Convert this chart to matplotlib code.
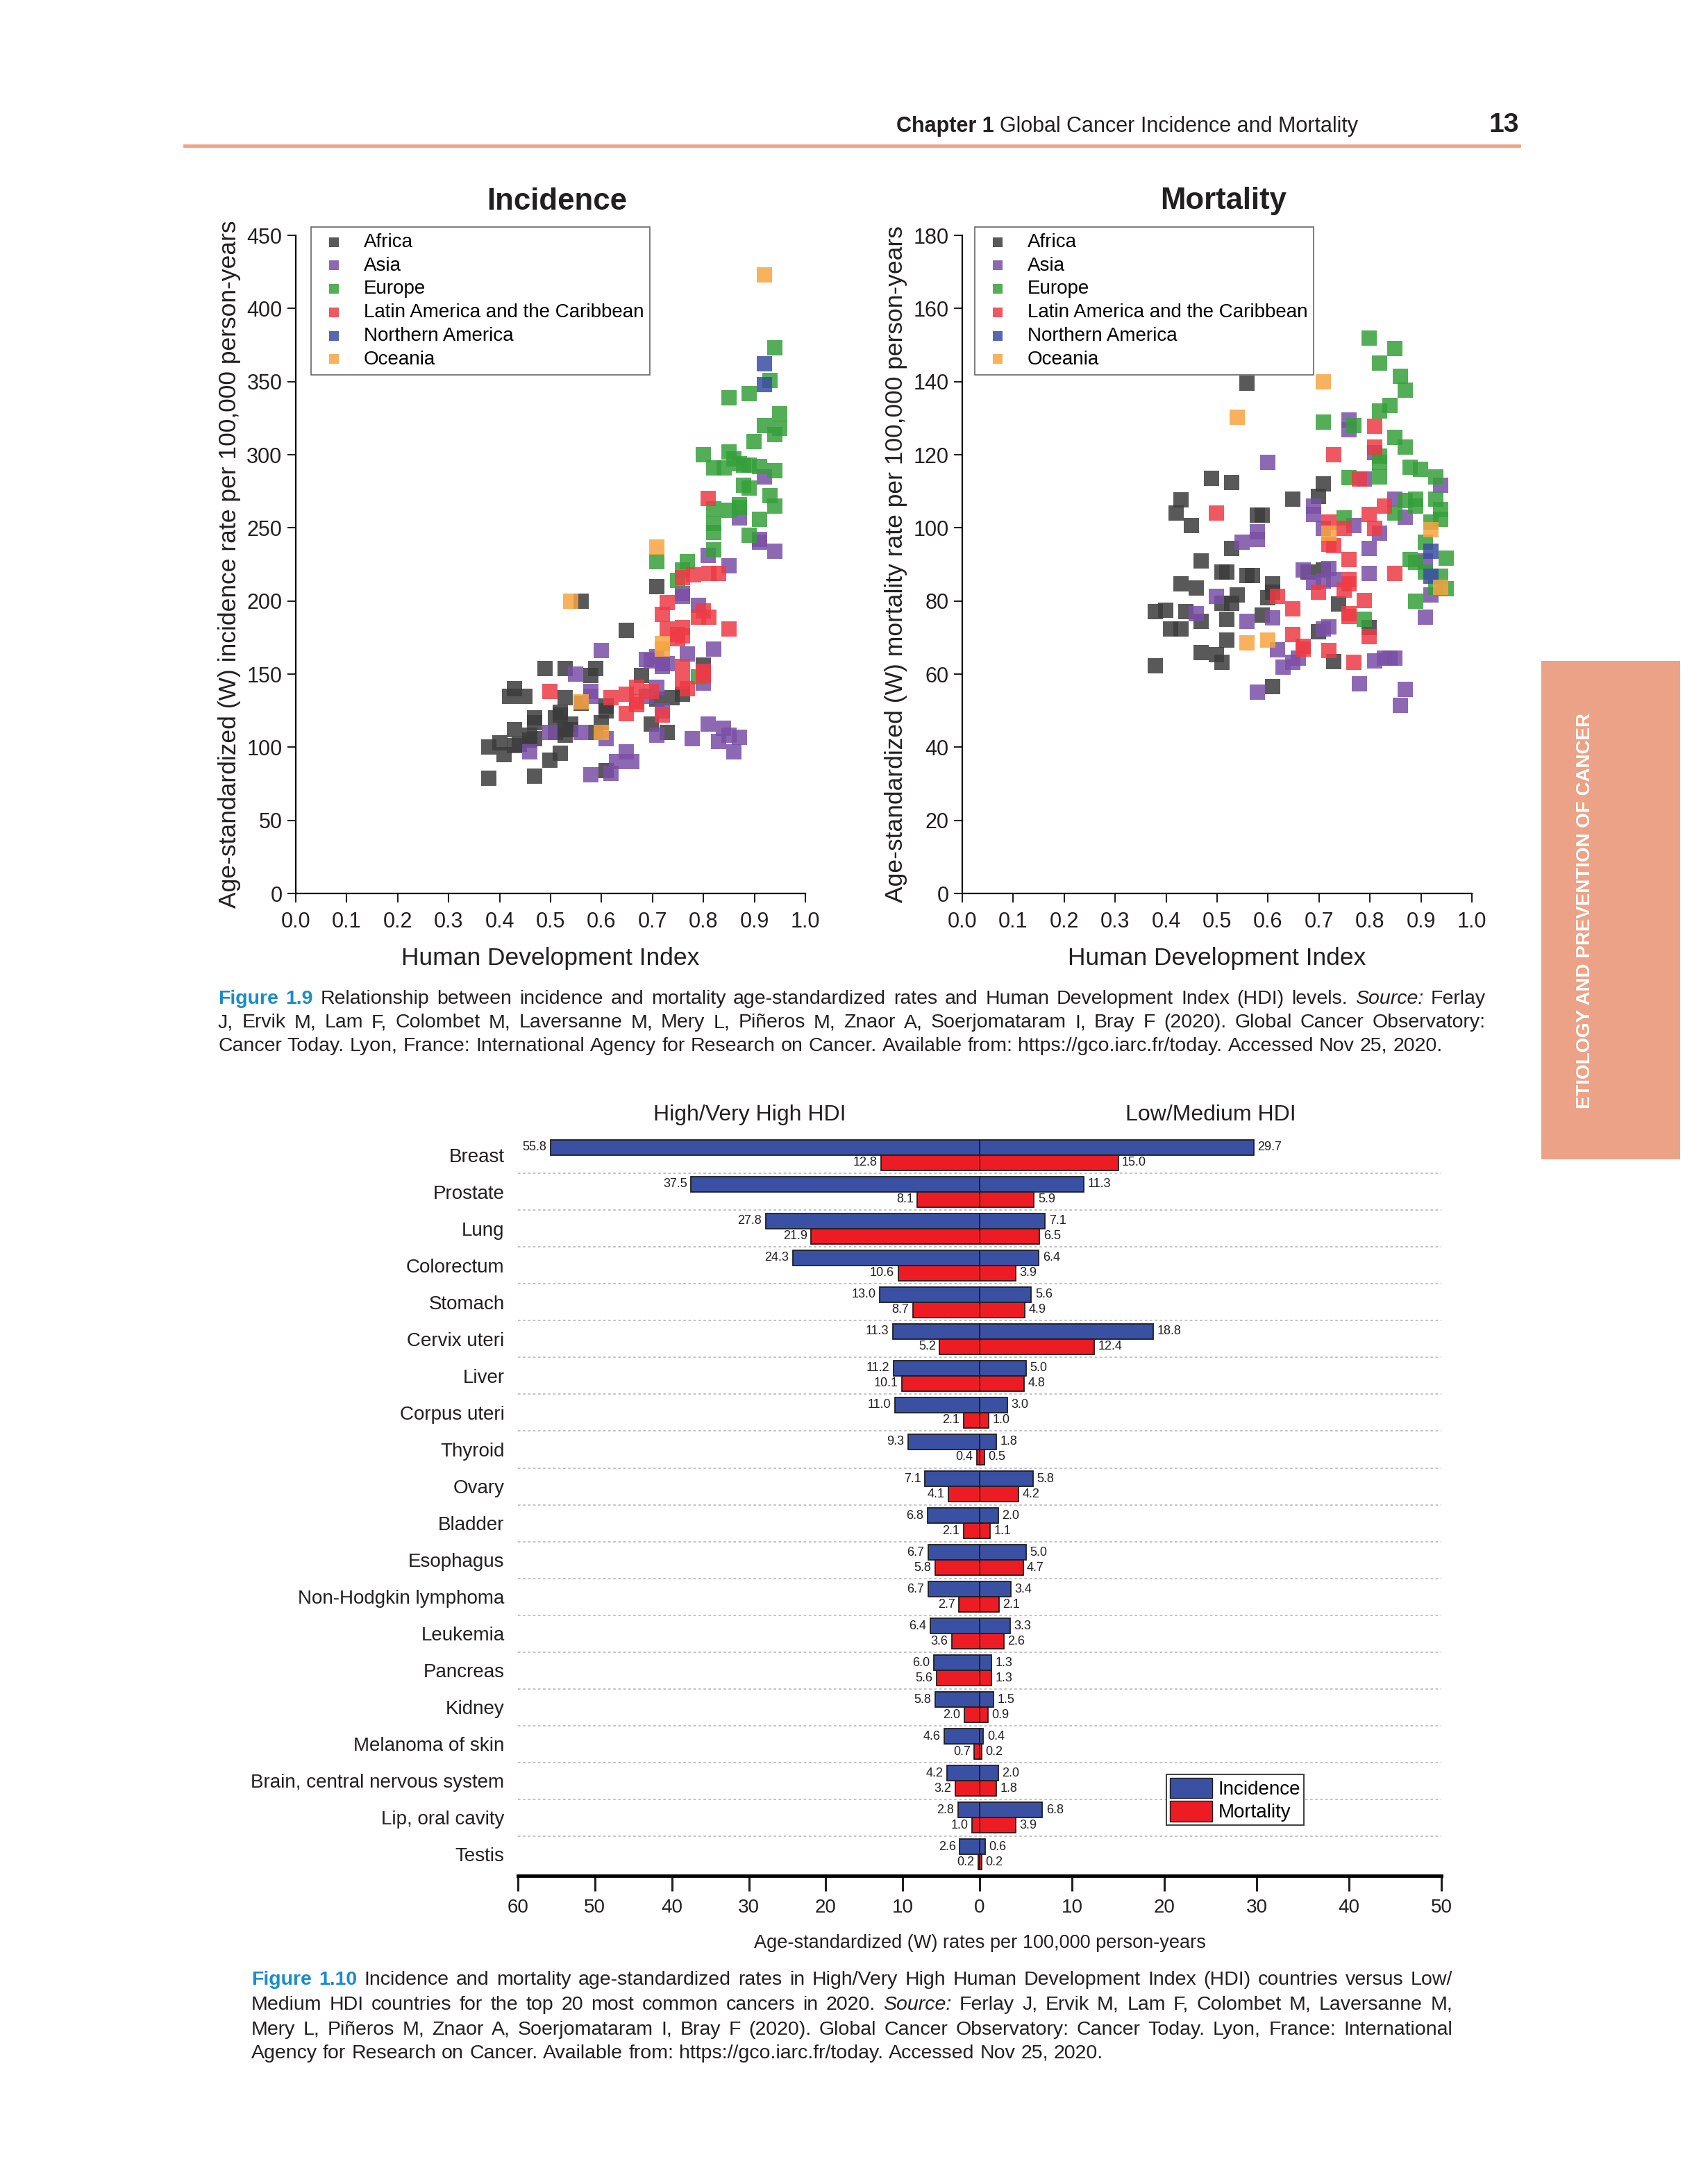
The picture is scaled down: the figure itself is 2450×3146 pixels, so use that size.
import numpy as np
import matplotlib
matplotlib.use('Agg')
import matplotlib.pyplot as plt
from matplotlib.patches import Rectangle, Patch
from matplotlib.lines import Line2D

plt.rcParams['font.family'] = ['Liberation Sans', 'DejaVu Sans']

# ---------------- data : Figure 1.9 (incidence vs HDI) ----------------
afr_hdi_inc = [0.709, 0.56, 0.649, 0.489, 0.528, 0.589, 0.579, 0.679, 0.80, 0.429, 0.42, 0.449, 0.528, 0.56,
               0.709, 0.739, 0.759, 0.609, 0.519, 0.519, 0.509, 0.468, 0.468, 0.539, 0.528, 0.698, 0.429, 0.599,
               0.509, 0.528, 0.729, 0.589, 0.459, 0.459, 0.468, 0.439, 0.429, 0.40, 0.379, 0.409, 0.499, 0.519,
               0.609, 0.379, 0.468, 0.609, 0.539]
afr_inc = [210, 200, 180, 154, 154, 154, 149, 149, 156, 140, 135, 135, 134, 130,
           133, 134, 136, 128, 124, 122, 120, 120, 117, 116, 112, 116, 112, 117,
           110, 108, 110, 110, 108, 105, 106, 102, 101, 103, 100, 95, 91, 96,
           84, 79, 80, 125, 112]
asi_hdi_inc = [0.92, 0.87, 0.91, 0.91, 0.94, 0.809, 0.85, 0.759, 0.759, 0.79, 0.599, 0.82, 0.768, 0.688, 0.698,
               0.709, 0.719, 0.729, 0.719, 0.549, 0.80, 0.579, 0.579, 0.709, 0.688, 0.719, 0.809, 0.839, 0.499,
               0.56, 0.709, 0.609, 0.778, 0.85, 0.87, 0.459, 0.649, 0.83, 0.86, 0.629, 0.659, 0.619, 0.579, 0.80]
asi_inc = [285, 257, 242, 240, 234, 231, 224, 205, 203, 197, 166, 167, 164, 160, 159,
           162, 157, 157, 155, 150, 144, 138, 135, 141, 135, 125, 116, 113, 110,
           110, 108, 106, 106, 108, 107, 97, 97, 104, 97, 90, 90, 82, 81, 152]
eur_hdi_inc = [0.94, 0.93, 0.889, 0.85, 0.949, 0.92, 0.949, 0.94, 0.899, 0.80, 0.85, 0.86, 0.87, 0.879, 0.889,
               0.91, 0.82, 0.84, 0.94, 0.879, 0.889, 0.93, 0.87, 0.87, 0.82, 0.85, 0.94, 0.91, 0.82, 0.82,
               0.889, 0.82, 0.709, 0.768, 0.759, 0.749, 0.79]
eur_inc = [373, 351, 342, 339, 328, 320, 318, 314, 309, 300, 302, 297, 294, 293, 293,
           292, 291, 291, 289, 279, 277, 272, 266, 264, 263, 262, 265, 256, 253, 247,
           245, 235, 227, 227, 221, 214, 148]
lat_hdi_inc = [0.809, 0.78, 0.81, 0.83, 0.759, 0.729, 0.80, 0.81, 0.79, 0.719, 0.85, 0.729, 0.759, 0.749, 0.749,
               0.759, 0.759, 0.80, 0.80, 0.499, 0.619, 0.649, 0.669, 0.669, 0.669, 0.698, 0.768, 0.649, 0.719,
               0.759]
lat_inc = [270, 218, 219, 219, 216, 199, 193, 189, 189, 191, 181, 181, 182, 177, 174,
           176, 155, 152, 149, 138, 134, 136, 141, 131, 129, 138, 140, 123, 122, 145]
nam_hdi_inc = [0.92, 0.92]
nam_inc = [362, 348]
oce_hdi_inc = [0.92, 0.709, 0.539, 0.72, 0.72, 0.56, 0.599]
oce_inc = [423, 237, 200, 171, 167, 131, 110]

# ---------------- data : Figure 1.9 (mortality vs HDI) ----------------
afr_hdi_mort = [0.559, 0.489, 0.529, 0.709, 0.429, 0.649, 0.699, 0.419, 0.449, 0.579, 0.589, 0.529, 0.469, 0.509,
                0.519, 0.559, 0.569, 0.679, 0.709, 0.429, 0.459, 0.609, 0.539, 0.509, 0.529, 0.599, 0.739, 0.379,
                0.399, 0.439, 0.519, 0.589, 0.409, 0.429, 0.699, 0.799, 0.519, 0.469, 0.499, 0.509, 0.729, 0.379,
                0.609, 0.469, 0.609]
afr_mort = [139.5, 113.5, 112.5, 112, 107.7, 107.9, 108.7, 104, 100.7, 103.4, 103.4, 94.3, 90.9, 88,
            88, 86.9, 86.9, 88, 88.4, 84.6, 83.5, 84.6, 81.7, 79.3, 79.3, 80.9, 79.2, 77,
            77.4, 77, 75, 76.2, 72.3, 72.3, 71.5, 72.7, 69.3, 65.8, 65.4, 63.2, 63.5, 62.2,
            56.6, 74.5, 82.5]
asi_hdi_mort = [0.759, 0.759, 0.599, 0.789, 0.939, 0.849, 0.689, 0.689, 0.869, 0.769, 0.709, 0.819, 0.579, 0.579,
                0.549, 0.799, 0.909, 0.669, 0.719, 0.689, 0.709, 0.729, 0.799, 0.919, 0.499, 0.459, 0.609, 0.559,
                0.909, 0.709, 0.719, 0.619, 0.659, 0.649, 0.829, 0.839, 0.849, 0.809, 0.629, 0.779, 0.869, 0.579,
                0.859, 0.809]
asi_mort = [129.4, 126.9, 118, 113.4, 111.7, 107.9, 106, 103.6, 103, 100.6, 99.8, 98.5, 99, 96.8,
            96, 94.3, 91, 88.4, 88.8, 85, 85.4, 85.9, 87.5, 81.7, 81.3, 76.6, 75.4, 74.5,
            75.6, 72.3, 72.9, 66.6, 64.4, 63.2, 64.4, 64.3, 64.4, 63.6, 61.9, 57.3, 55.9, 55,
            51.5, 120.5]
eur_hdi_mort = [0.799, 0.849, 0.819, 0.859, 0.869, 0.839, 0.819, 0.709, 0.769, 0.849, 0.869, 0.819, 0.819, 0.879,
                0.899, 0.759, 0.819, 0.929, 0.869, 0.889, 0.889, 0.929, 0.849, 0.749, 0.939, 0.939, 0.919, 0.909,
                0.949, 0.879, 0.889, 0.909, 0.939, 0.949, 0.929, 0.889, 0.789]
eur_mort = [151.9, 149, 145, 141.5, 137.7, 133.5, 132, 129, 128, 124.8, 122, 119.7, 118, 116.5,
            116, 113.8, 114, 114, 107.4, 107.8, 106, 107.8, 104, 102.8, 105, 102.3, 101.5, 96,
            91.8, 91.3, 90.5, 88, 86.7, 83.3, 83.7, 80, 75]
lat_hdi_mort = [0.809, 0.729, 0.809, 0.779, 0.499, 0.829, 0.799, 0.719, 0.749, 0.809, 0.719, 0.729, 0.759, 0.759,
                0.759, 0.849, 0.699, 0.749, 0.619, 0.789, 0.649, 0.759, 0.759, 0.799, 0.649, 0.669, 0.669, 0.719,
                0.769]
lat_mort = [127.8, 120, 122, 113.4, 104, 106, 103.6, 101.5, 99.8, 99.8, 95.6, 95.2, 91.3, 85.9,
            84.6, 87.5, 82.5, 82.9, 81.3, 80.1, 77.9, 76.6, 75.8, 70.3, 70.9, 67.6, 66.8, 66.4,
            63.2]
nam_hdi_mort = [0.919, 0.919]
nam_mort = [93.6, 86.7]
oce_hdi_mort = [0.709, 0.539, 0.719, 0.919, 0.939, 0.559, 0.599]
oce_mort = [140, 130.3, 98.5, 99.4, 83.7, 68.5, 69.3]

regions = ['Africa', 'Asia', 'Europe', 'Latin America and the Caribbean', 'Northern America', 'Oceania']
reg_colors = ['#3c3c3c', '#7a4fa6', '#35a03a', '#ee3b45', '#3a4ea3', '#f7a541']

# ---------------- data : Figure 1.10 ----------------
cancers = ['Breast', 'Prostate', 'Lung', 'Colorectum', 'Stomach', 'Cervix uteri', 'Liver', 'Corpus uteri',
           'Thyroid', 'Ovary', 'Bladder', 'Esophagus', 'Non-Hodgkin lymphoma', 'Leukemia', 'Pancreas',
           'Kidney', 'Melanoma of skin', 'Brain, central nervous system', 'Lip, oral cavity', 'Testis']
inc_high = [55.8, 37.5, 27.8, 24.3, 13.0, 11.3, 11.2, 11.0, 9.3, 7.1, 6.8, 6.7, 6.7, 6.4, 6.0, 5.8, 4.6, 4.2, 2.8, 2.6]
inc_low = [29.7, 11.3, 7.1, 6.4, 5.6, 18.8, 5.0, 3.0, 1.8, 5.8, 2.0, 5.0, 3.4, 3.3, 1.3, 1.5, 0.4, 2.0, 6.8, 0.6]
mort_high = [12.8, 8.1, 21.9, 10.6, 8.7, 5.2, 10.1, 2.1, 0.4, 4.1, 2.1, 5.8, 2.7, 3.6, 5.6, 2.0, 0.7, 3.2, 1.0, 0.2]
mort_low = [15.0, 5.9, 6.5, 3.9, 4.9, 12.4, 4.8, 1.0, 0.5, 4.2, 1.1, 4.7, 2.1, 2.6, 1.3, 0.9, 0.2, 1.8, 3.9, 0.2]
left_ticks = [60, 50, 40, 30, 20, 10]
right_ticks = [0, 10, 20, 30, 40, 50]

W, H = 2450, 3146
fig = plt.figure(figsize=(W / 100, H / 100), dpi=100)
renderer = fig.canvas.get_renderer()
TXT = '#231f20'


def fx(x):
    return x / W


def fy(y):
    return 1 - y / H


# ---------------- page header ----------------
fig.add_artist(Line2D([fx(266), fx(2188)], [fy(210), fy(210)], color='#f0a488', lw=3.5))
t = fig.text(fx(1956), fy(182), 'Global Cancer Incidence and Mortality', fontsize=22, ha='right', va='center', color=TXT)
wd = t.get_window_extent(renderer).width
fig.text(fx(1956 - wd - 8), fy(182), 'Chapter 1', fontsize=22, fontweight='bold', ha='right', va='center', color=TXT)
fig.text(fx(2188), fy(180), '13', fontsize=28, fontweight='bold', ha='right', va='center', color=TXT)

# side band
fig.add_artist(Rectangle((fx(2220), fy(1670)), 200 / W, 718 / H, transform=fig.transFigure,
                         color='#eba286', lw=0))
fig.text(fx(2283), fy(1312), 'ETIOLOGY AND PREVENTION OF CANCER', fontsize=20, fontweight='bold',
         color='white', rotation=90, ha='center', va='center')


# ---------------- scatter panels ----------------
def scatter_panel(left, data, ymax, ystep, title, ylabel, leg_x):
    ax = fig.add_axes([fx(left), fy(1287), 734 / W, 948 / H])
    for (xs, ys), name, col in zip(data, regions, reg_colors):
        ax.scatter(xs, ys, marker='s', s=240, color=col, alpha=0.85, linewidths=0, label=name)
    ax.set_xlim(0, 1)
    ax.set_ylim(0, ymax)
    ax.set_xticks(np.arange(0, 1.01, 0.1))
    ax.set_xticklabels([f'{v:.1f}' for v in np.arange(0, 1.01, 0.1)])
    ax.set_yticks(np.arange(0, ymax + 1, ystep))
    for s in ['top', 'right']:
        ax.spines[s].set_visible(False)
    for s in ['left', 'bottom']:
        ax.spines[s].set_linewidth(1.6)
    ax.tick_params(direction='out', length=9, width=1.5, labelsize=22, pad=5, colors=TXT)
    ax.tick_params(axis='x', pad=10)
    ax.set_xlabel('Human Development Index', fontsize=25.5, labelpad=15, color=TXT)
    ax.set_ylabel(ylabel, fontsize=25.5, labelpad=6, color=TXT)
    fig.text(fx(left + 376), fy(290), title, fontsize=31.5, fontweight='bold', ha='center', va='center', color=TXT)
    leg = ax.legend(loc='upper left', bbox_to_anchor=(fx(leg_x), fy(327)), bbox_transform=fig.transFigure,
                    fontsize=20, frameon=True, fancybox=False, edgecolor='#666666', framealpha=1,
                    borderaxespad=0, markerscale=0.62, labelspacing=0.28, handletextpad=0.7,
                    borderpad=0.32, handlelength=1.7)
    leg.get_frame().set_linewidth(1.2)
    return ax


inc_data = [(afr_hdi_inc, afr_inc), (asi_hdi_inc, asi_inc), (eur_hdi_inc, eur_inc),
            (lat_hdi_inc, lat_inc), (nam_hdi_inc, nam_inc), (oce_hdi_inc, oce_inc)]
mort_data = [(afr_hdi_mort, afr_mort), (asi_hdi_mort, asi_mort), (eur_hdi_mort, eur_mort),
             (lat_hdi_mort, lat_mort), (nam_hdi_mort, nam_mort), (oce_hdi_mort, oce_mort)]
scatter_panel(426, inc_data, 450, 50, 'Incidence',
              'Age-standardized (W) incidence rate per 100,000 person-years', 448)
scatter_panel(1386, mort_data, 180, 20, 'Mortality',
              'Age-standardized (W) mortality rate per 100,000 person-years', 1404)


# ---------------- captions (justified, mixed styles) ----------------
STY = {'n': dict(color=TXT), 'i': dict(color=TXT, style='italic'),
       'f': dict(color='#1a8ccb', fontweight='bold')}


def put_line(segs, x0, x1, y, size, justify=True):
    words = []
    for txt, st in segs:
        for w in txt.split():
            words.append((w, st))
    objs, widths = [], []
    for w, st in words:
        tt = fig.text(fx(x0), fy(y), w, fontsize=size, ha='left', va='center', **STY[st])
        objs.append(tt)
        widths.append(tt.get_window_extent(renderer).width)
    if justify:
        gap = (x1 - x0 - sum(widths)) / (len(words) - 1)
    else:
        gap = size * 100 / 72 * 0.28
    x = x0
    for tt, wdt in zip(objs, widths):
        tt.set_x(fx(x))
        x += wdt + gap


CAP = 20.5
cap9 = [
    [('Figure 1.9', 'f'), ('Relationship between incidence and mortality age-standardized rates and Human '
                           'Development Index (HDI) levels.', 'n'), ('Source:', 'i'), ('Ferlay', 'n')],
    [('J, Ervik M, Lam F, Colombet M, Laversanne M, Mery L, Piñeros M, Znaor A, Soerjomataram I, Bray F '
      '(2020). Global Cancer Observatory:', 'n')],
    [('Cancer Today. Lyon, France: International Agency for Research on Cancer. Available from: '
      'https://gco.iarc.fr/today. Accessed Nov 25, 2020.', 'n')],
]
for k, (segs, yy) in enumerate(zip(cap9, [1439, 1473, 1507])):
    put_line(segs, 314, 2140, yy, CAP, justify=(k < 2))

cap10 = [
    [('Figure 1.10', 'f'), ('Incidence and mortality age-standardized rates in High/Very High Human '
                            'Development Index (HDI) countries versus Low/', 'n')],
    [('Medium HDI countries for the top 20 most common cancers in 2020.', 'n'), ('Source:', 'i'),
     ('Ferlay J, Ervik M, Lam F, Colombet M, Laversanne M,', 'n')],
    [('Mery L, Piñeros M, Znaor A, Soerjomataram I, Bray F (2020). Global Cancer Observatory: Cancer Today. '
      'Lyon, France: International', 'n')],
    [('Agency for Research on Cancer. Available from: https://gco.iarc.fr/today. Accessed Nov 25, 2020.', 'n')],
]
for k, (segs, yy) in enumerate(zip(cap10, [2852, 2888, 2924, 2958])):
    put_line(segs, 362, 2092, yy, CAP, justify=(k < 3))

# ---------------- Figure 1.10 butterfly bars ----------------
BLUE, RED, EDGE = '#3a51a3', '#ed1c24', '#1e1e1e'
k = 50 / 60   # left half spans 0-60, right half 0-50 over the same width
h = 0.415
yy = np.arange(len(cancers))
axb = fig.add_axes([fx(746), fy(2702), 1330 / W, 1070 / H])
ih, il = np.array(inc_high), np.array(inc_low)
mh, ml = np.array(mort_high), np.array(mort_low)
axb.barh(yy - h / 2, -ih * k, height=h, color=BLUE, edgecolor=EDGE, lw=1.3, zorder=3)
axb.barh(yy - h / 2, il, height=h, color=BLUE, edgecolor=EDGE, lw=1.3, zorder=3)
axb.barh(yy + h / 2, -mh * k, height=h, color=RED, edgecolor=EDGE, lw=1.3, zorder=3)
axb.barh(yy + h / 2, ml, height=h, color=RED, edgecolor=EDGE, lw=1.3, zorder=3)
for i in range(len(cancers)):
    for v, xpos, ypos, ha, off in [(ih[i], -ih[i] * k, i - h / 2, 'right', -4),
                                   (il[i], il[i], i - h / 2, 'left', 4),
                                   (mh[i], -mh[i] * k, i + h / 2, 'right', -4),
                                   (ml[i], ml[i], i + h / 2, 'left', 4)]:
        axb.annotate(f'{v:.1f}', (xpos, ypos), xytext=(off, 0), textcoords='offset points',
                     ha=ha, va='center', fontsize=13, color=TXT)
for i in range(len(cancers) - 1):
    axb.axhline(i + 0.5, color='#bdbdbd', ls=(0, (2, 2)), lw=1.3, zorder=1)

axb.set_xlim(-50, 50)
axb.set_ylim(19.58, -0.6)
axb.set_yticks(yy)
axb.set_yticklabels(cancers)
axb.set_xticks([-v * k for v in left_ticks] + right_ticks)
axb.set_xticklabels([str(v) for v in left_ticks + right_ticks])
for s in ['top', 'right', 'left']:
    axb.spines[s].set_visible(False)
axb.spines['bottom'].set_linewidth(3.5)
axb.tick_params(axis='y', length=0, labelsize=20, pad=14, colors=TXT)
axb.tick_params(axis='x', direction='out', length=16, width=2.2, labelsize=20, pad=8, colors=TXT)
axb.set_xlabel('Age-standardized (W) rates per 100,000 person-years', fontsize=19.5, labelpad=18, color=TXT)
fig.text(fx(1080), fy(1606), 'High/Very High HDI', fontsize=23, ha='center', va='center', color=TXT)
fig.text(fx(1744), fy(1606), 'Low/Medium HDI', fontsize=23, ha='center', va='center', color=TXT)
lg = axb.legend(handles=[Patch(facecolor=BLUE, edgecolor=EDGE, label='Incidence'),
                         Patch(facecolor=RED, edgecolor=EDGE, label='Mortality')],
                loc='upper left', bbox_to_anchor=(fx(1680), fy(2556)), bbox_transform=fig.transFigure,
                fontsize=20, frameon=True, fancybox=False, edgecolor='#444444', framealpha=1,
                borderaxespad=0, handlelength=2.2, handleheight=1.25, labelspacing=0.12,
                handletextpad=0.3, borderpad=0.18)
lg.get_frame().set_linewidth(1.5)

fig.savefig('out.png', dpi=100, facecolor='white')
